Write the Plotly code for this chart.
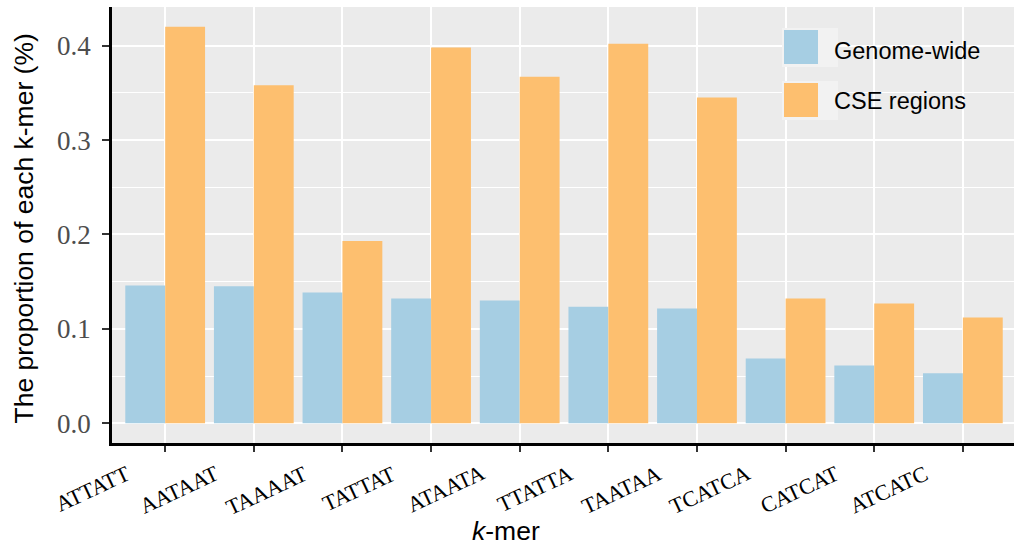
import plotly.graph_objects as go

# ---- data ----
kmers = ["ATTATT", "AATAAT", "TAAAAT", "TATTAT", "ATAATA",
         "TTATTA", "TAATAA", "TCATCA", "CATCAT", "ATCATC"]
genome_wide = [0.146, 0.145, 0.1385, 0.132, 0.130, 0.1235, 0.1215, 0.0686, 0.0612, 0.0530]
cse_regions = [0.420, 0.358, 0.193, 0.398, 0.367, 0.402, 0.345, 0.132, 0.1267, 0.112]
series_names = ["Genome-wide", "CSE regions"]
series_colors = ["#A6CEE3", "#FDBF6F"]
y_ticks = [0.0, 0.1, 0.2, 0.3, 0.4]

W, H = 1014, 548
L, R, T, B = 112, 0, 7, 105
PW, PH = W - L - R, H - T - B


def px_x(p):
    return (p - L) / PW


def px_y(q):
    return (H - B - q) / PH


fig = go.Figure()
idx = list(range(len(kmers)))
for name, vals, col in zip(series_names, [genome_wide, cse_regions], series_colors):
    fig.add_trace(go.Bar(x=idx, y=vals, name=name, marker=dict(color=col, line=dict(width=0)),
                         showlegend=False))

# x tick labels (rotated, serif) as annotations on the category axis
for i, k in enumerate(kmers):
    fig.add_annotation(x=i, xref="x", y=px_y(459), yref="paper", text=k, showarrow=False,
                       textangle=-25, xanchor="right", yanchor="top", xshift=-30, borderpad=0,
                       font=dict(family="Liberation Serif", size=22, color="black"))

# axis titles
fig.add_annotation(x=px_x(23), y=px_y(228.5), xref="paper", yref="paper",
                   text="The proportion of each k-mer (%)", textangle=-90, showarrow=False,
                   xanchor="center", yanchor="middle", borderpad=0,
                   font=dict(family="Liberation Sans", size=26.5, color="black"))
fig.add_annotation(x=px_x(506), y=px_y(531), xref="paper", yref="paper",
                   text="<i>k</i>-mer", showarrow=False, xanchor="center", yanchor="middle",
                   borderpad=0, font=dict(family="Liberation Sans", size=26.5, color="black"))

# legend (manual, ggplot-like keys)
key_rows = [(28, 67, 30, 64, 51), (81, 120, 83, 117, 101)]
for (bg0, bg1, k0, k1, ty), name, col in zip(key_rows, series_names, series_colors):
    fig.add_shape(type="rect", xref="paper", yref="paper", x0=px_x(782), x1=px_x(838),
                  y0=px_y(bg1), y1=px_y(bg0), fillcolor="#F2F2F2", line=dict(width=0), layer="above")
    fig.add_shape(type="rect", xref="paper", yref="paper", x0=px_x(784), x1=px_x(818),
                  y0=px_y(k1), y1=px_y(k0), fillcolor=col, line=dict(width=0), layer="above")
    fig.add_annotation(x=px_x(833), y=px_y(ty), xref="paper", yref="paper", text=name,
                       showarrow=False, xanchor="left", yanchor="middle", borderpad=0,
                       font=dict(family="Liberation Sans", size=23.5, color="black"))

fig.update_layout(
    width=W, height=H,
    margin=dict(l=L, r=R, t=T, b=B),
    paper_bgcolor="white", plot_bgcolor="#EBEBEB",
    barmode="group", bargap=0.1, bargroupgap=0,
    showlegend=False,
)
fig.update_xaxes(
    range=[-0.6, 9.577], tickvals=idx, showticklabels=False,
    showgrid=True, gridcolor="white", gridwidth=2,
    ticks="outside", ticklen=6, tickwidth=2, tickcolor="#333333",
    showline=True, linecolor="black", linewidth=2.5, zeroline=False,
)
fig.update_yaxes(
    range=[-0.021, 0.441], tickvals=y_ticks, tickformat=".1f",
    showgrid=True, gridcolor="white", gridwidth=2,
    minor=dict(dtick=0.05, tick0=0, showgrid=True, gridcolor="white", gridwidth=1, ticks=""),
    ticks="outside", ticklen=7, tickwidth=2, tickcolor="#333333",
    ticklabelstandoff=6,
    tickfont=dict(family="Liberation Serif", size=27, color="#4D4D4D"),
    showline=True, linecolor="black", linewidth=2.5, zeroline=False,
)

fig.write_html("out.html", config={"displayModeBar": False},
               post_script="document.body.style.margin='0';document.body.style.overflow='hidden';")
